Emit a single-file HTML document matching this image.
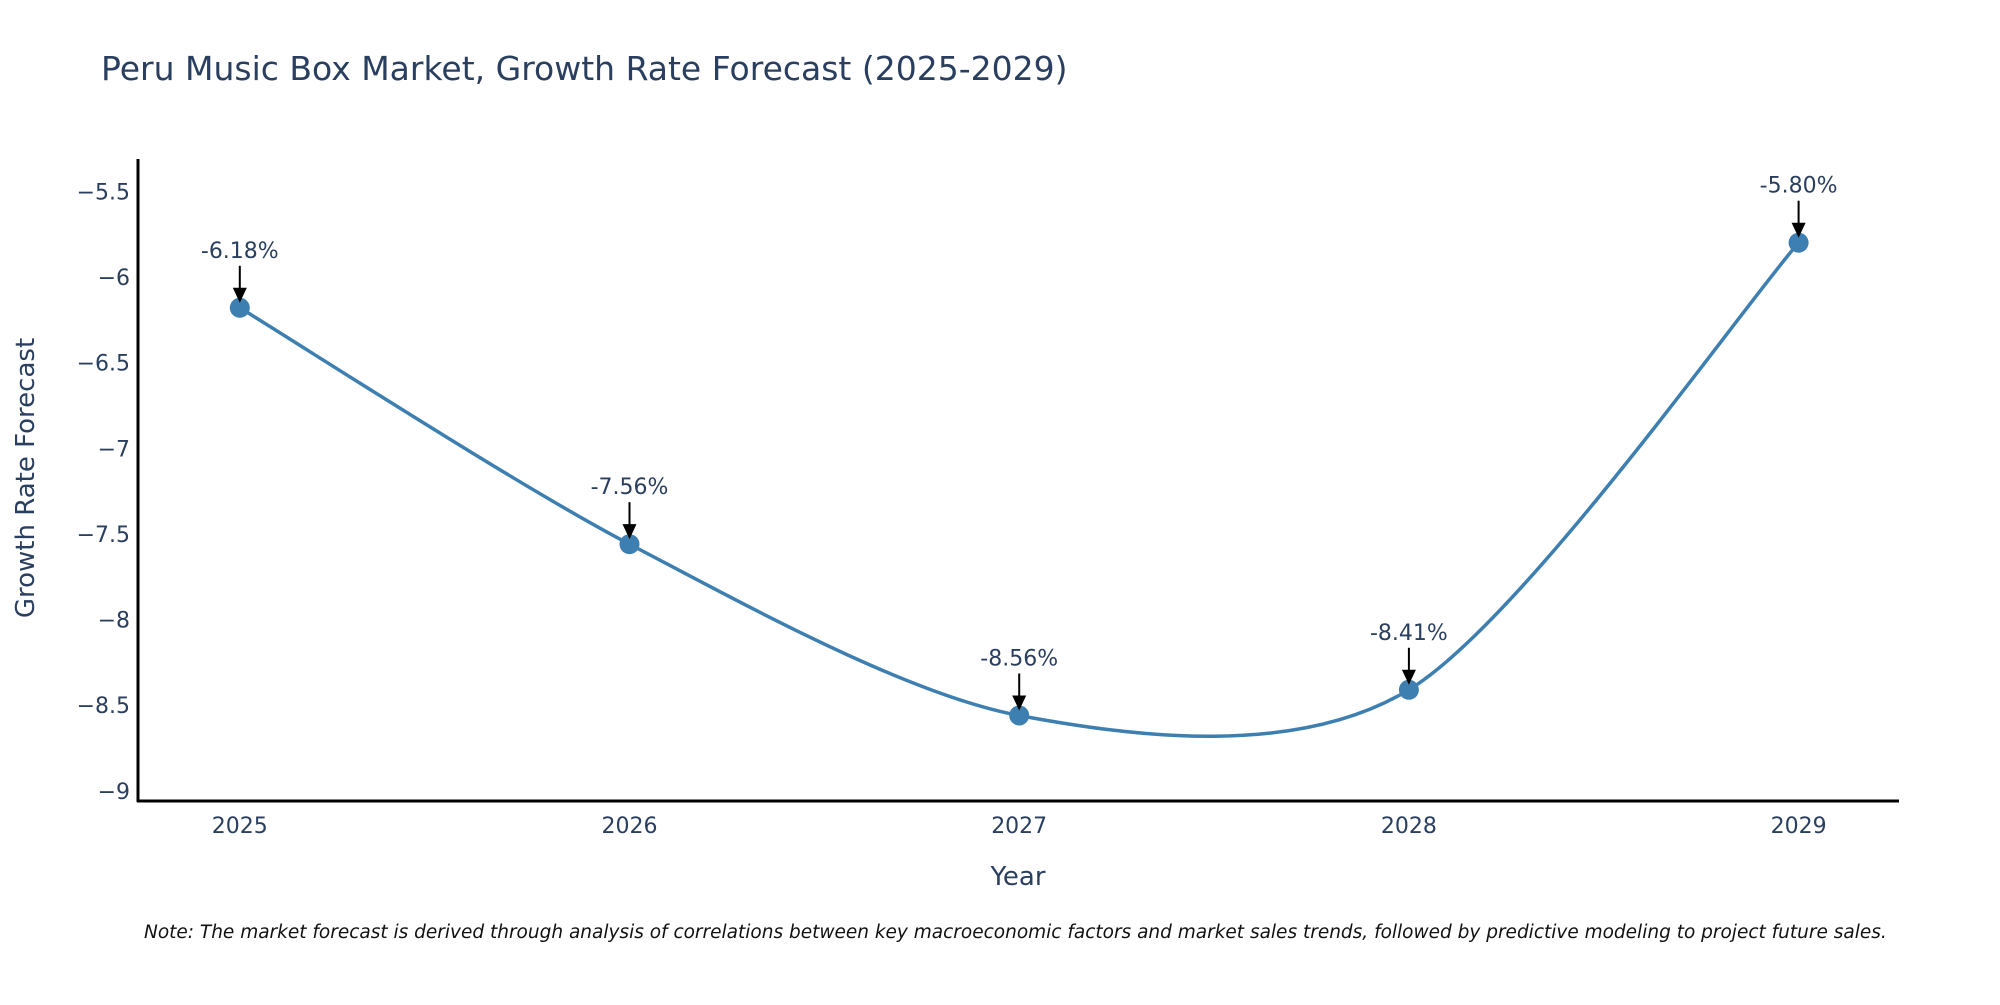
<!DOCTYPE html>
<html><head><meta charset="utf-8"><style>
body{margin:0;background:#fff;}
svg text{font-family:"DejaVu Sans","Liberation Sans",sans-serif;fill:#2a3f5f;}
</style></head><body>
<svg width="2000" height="1000" xmlns="http://www.w3.org/2000/svg">
<text x="101" y="80" font-size="33">Peru Music Box Market, Growth Rate Forecast (2025-2029)</text>
<g id="axes"></g>
<g id="plot"></g>
<text x="1018" y="885" font-size="26" text-anchor="middle">Year</text>
<text transform="translate(34,478) rotate(-90)" font-size="26" text-anchor="middle">Growth Rate Forecast</text>
<text x="144" y="938" font-size="18.5" font-style="italic" style="fill:#111">Note: The market forecast is derived through analysis of correlations between key macroeconomic factors and market sales trends, followed by predictive modeling to project future sales.</text>
</svg>
<script>
const years=[2025,2026,2027,2028,2029];
const values=[-6.18,-7.56,-8.56,-8.41,-5.80];
const labels=["-6.18%","-7.56%","-8.56%","-8.41%","-5.80%"];
const yTicks=[-5.5,-6,-6.5,-7,-7.5,-8,-8.5,-9];
const yTickLabels=["−5.5","−6","−6.5","−7","−7.5","−8","−8.5","−9"];
const NS="http://www.w3.org/2000/svg";
function X(v){return 239.8+(v-2025)*389.7;}
function Y(v){return 191.3+(-5.5-v)*171.3;}
function mk(tag,attrs,parent){const e=document.createElementNS(NS,tag);for(const k in attrs)e.setAttribute(k,attrs[k]);parent.appendChild(e);return e;}
const axes=document.getElementById('axes'),plot=document.getElementById('plot');
let a=mk('line',{x1:138,y1:159,x2:138,y2:802,stroke:'#000','stroke-width':3},axes);


a=mk('line',{x1:137,y1:801,x2:1899,y2:801,stroke:'#000','stroke-width':3},axes);


yTicks.forEach((t,i)=>{const e=mk('text',{x:130,y:Y(t)+8,'font-size':22,'text-anchor':'end'},axes);e.textContent=yTickLabels[i];

});
years.forEach(t=>{const e=mk('text',{x:X(t),y:833,'font-size':22,'text-anchor':'middle'},axes);e.textContent=String(t);

});
const pts=years.map((y,i)=>[X(y),Y(values[i])]);
let d='M'+pts[0][0]+','+pts[0][1];
const s=0.145;
for(let i=0;i<pts.length-1;i++){const p0=pts[Math.max(0,i-1)],p1=pts[i],p2=pts[i+1],p3=pts[Math.min(pts.length-1,i+2)];
d+=' C'+(p1[0]+(p2[0]-p0[0])*s)+','+(p1[1]+(p2[1]-p0[1])*s)+' '+(p2[0]-(p3[0]-p1[0])*s)+','+(p2[1]-(p3[1]-p1[1])*s)+' '+p2[0]+','+p2[1];}
const line=mk('path',{d:d,fill:'none',stroke:'#3d7fb0','stroke-width':3.5},plot);


pts.forEach((p,i)=>{const c=mk('circle',{cx:p[0],cy:p[1],r:10,fill:'#3d7fb0'},plot);


const l=mk('line',{x1:p[0],y1:p[1]-42,x2:p[0],y2:p[1]-18,stroke:'#000','stroke-width':2},plot);


const h=mk('polygon',{points:(p[0]-7)+','+(p[1]-20)+' '+(p[0]+7)+','+(p[1]-20)+' '+p[0]+','+(p[1]-5),fill:'#000'},plot);


const t=mk('text',{x:p[0],y:p[1]-50,'font-size':22,'text-anchor':'middle'},plot);t.textContent=labels[i];

});
</script>
</body></html>
